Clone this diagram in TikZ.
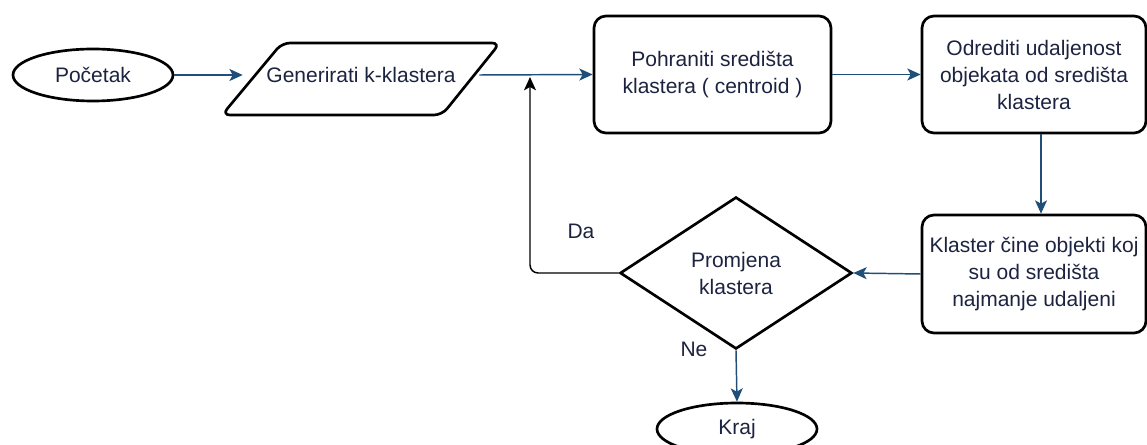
\documentclass[tikz,border=0pt]{standalone}
\usepackage{fontspec}
\setmainfont{Liberation Sans}
\usetikzlibrary{shapes.geometric,arrows.meta,calc}
\definecolor{conn}{HTML}{1F4E79}
\definecolor{txt}{HTML}{1C2340}
\begin{document}
\begin{tikzpicture}[x=0.75pt,y=-0.75pt,
  lbl/.style={text=txt, font=\fontsize{15.75}{20.25}\selectfont, align=center, inner sep=0pt},
  box/.style={lbl, draw=black, line width=2pt, rounded corners=9pt},
  term/.style={lbl, ellipse, draw=black, line width=2pt, minimum width=120pt, minimum height=39pt},
  decis/.style={lbl, diamond, draw=black, line width=2pt, minimum width=174pt, minimum height=114pt},
  flow/.style={draw=conn, line width=1.1pt, -{Stealth[length=10pt,width=9pt,inset=2.5pt]}},
  back/.style={draw=black, line width=1.1pt, rounded corners=6pt, -{Stealth[length=10pt,width=9pt,inset=2.5pt]}}
]
\useasboundingbox (0,0) rectangle (1147,445);

% nodes
\node[term] (start) at (93,75) {Početak};
\draw[line width=2pt, rounded corners=6pt] (222,115) -- (282,43) -- (500,43) -- (442,115) -- cycle;
\node[lbl, minimum width=177pt, minimum height=22.5pt] (gen) at (361,75) {Generirati k-klastera};
\node[box, minimum width=177.75pt, minimum height=87.75pt] (pohr) at (712.5,74.5) {Pohraniti središta\\klastera ( centroid )};
\node[box, minimum width=168pt, minimum height=87.75pt] (odr) at (1034,74.5) {Odrediti udaljenost\\objekata od središta\\klastera};
\node[box, minimum width=168pt, minimum height=88.5pt] (klas) at (1034,274) {Klaster čine objekti koj\\su od središta\\najmanje udaljeni};
\node[decis] (dia) at (736,273) {Promjena\\klastera};
\node[term] (kraj) at (737,429) {Kraj};
\node[lbl] (da) at (581,231) {Da};
\node[lbl] (ne) at (694,349) {Ne};
\coordinate (jn) at (530,74);

% connectors
\draw[flow] (start.east) -- (gen.west);
\draw[flow] (gen.east) -- (pohr.west);
\draw[flow] (pohr.east) -- (odr.west);
\draw[flow] ($(odr.south)+(7,0)$) -- ($(klas.north)+(7,0)$);
\draw[flow] (klas.west) -- (dia.east);
\draw[flow] (dia.south) -- (kraj.north);
\draw[back, shorten >=2.25pt] (dia.west) -| (jn);
\end{tikzpicture}
\end{document}
